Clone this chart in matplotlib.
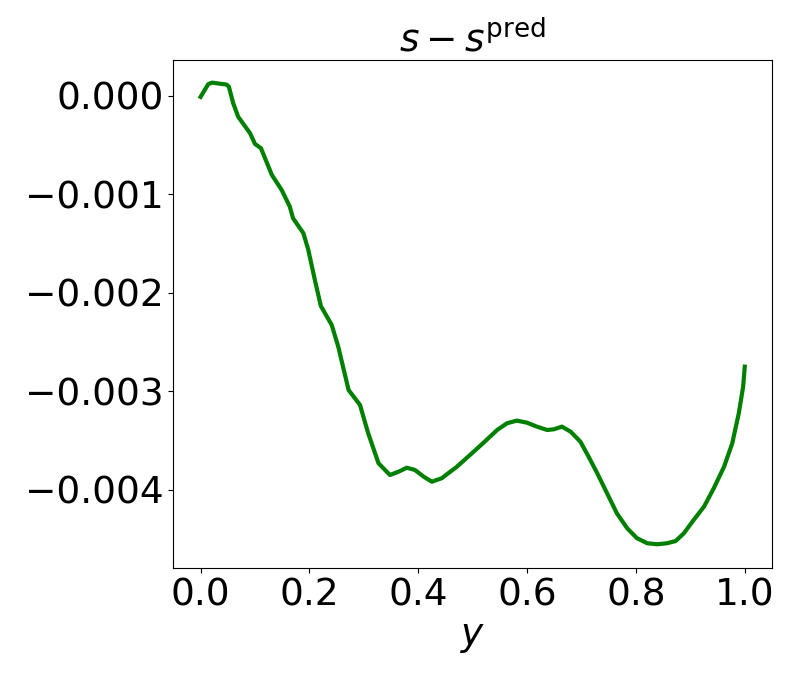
import matplotlib
matplotlib.use("Agg")
import matplotlib.pyplot as plt

y_coord = [0.0, 0.014, 0.021, 0.048, 0.052, 0.060, 0.069, 0.091, 0.100, 0.111,
           0.131, 0.149, 0.164, 0.170, 0.189, 0.198, 0.210, 0.221, 0.241, 0.253,
           0.272, 0.293, 0.308, 0.327, 0.348, 0.364, 0.379, 0.394, 0.410, 0.425,
           0.443, 0.471, 0.495, 0.520, 0.545, 0.563, 0.581, 0.600, 0.618, 0.637,
           0.649, 0.664, 0.680, 0.698, 0.713, 0.729, 0.747, 0.765, 0.784, 0.802,
           0.821, 0.839, 0.857, 0.873, 0.888, 0.906, 0.925, 0.943, 0.962, 0.977,
           0.989, 0.997, 1.0]
diff = [-0.000010, 0.000119, 0.000135, 0.000115, 0.000094, -0.000074, -0.000210,
        -0.000379, -0.000487, -0.000531, -0.000802, -0.000954, -0.001124, -0.001242,
        -0.001394, -0.001563, -0.001868, -0.002132, -0.002325, -0.002545, -0.002985,
        -0.003137, -0.003424, -0.003729, -0.003848, -0.003814, -0.003774, -0.003797,
        -0.003865, -0.003916, -0.003881, -0.003764, -0.003645, -0.003520, -0.003391,
        -0.003323, -0.003296, -0.003317, -0.003357, -0.003391, -0.003384, -0.003357,
        -0.003408, -0.003510, -0.003662, -0.003831, -0.004034, -0.004237, -0.004389,
        -0.004490, -0.004541, -0.004551, -0.004541, -0.004518, -0.004440, -0.004305,
        -0.004170, -0.003983, -0.003763, -0.003526, -0.003221, -0.002951, -0.002748]

fig = plt.figure(figsize=(7.93, 6.8), dpi=100)
ax = fig.add_axes([0.2186, 0.1647, 0.7549, 0.7471])
ax.plot(y_coord, diff, color="green", linewidth=3)
ax.set_xlim(-0.05, 1.05)
ax.set_ylim(-0.004792, 0.000365)
ax.set_xticks([0.0, 0.2, 0.4, 0.6, 0.8, 1.0])
ax.set_yticks([0.0, -0.001, -0.002, -0.003, -0.004])
ax.set_yticklabels(["0.000", "\u22120.001", "\u22120.002", "\u22120.003", "\u22120.004"])
ax.tick_params(labelsize=27)
ax.set_title(r"$s - s^{\mathrm{pred}}$", fontsize=27)
ax.set_xlabel(r"$y$", fontsize=27)
fig.savefig("out.png", dpi=100)
